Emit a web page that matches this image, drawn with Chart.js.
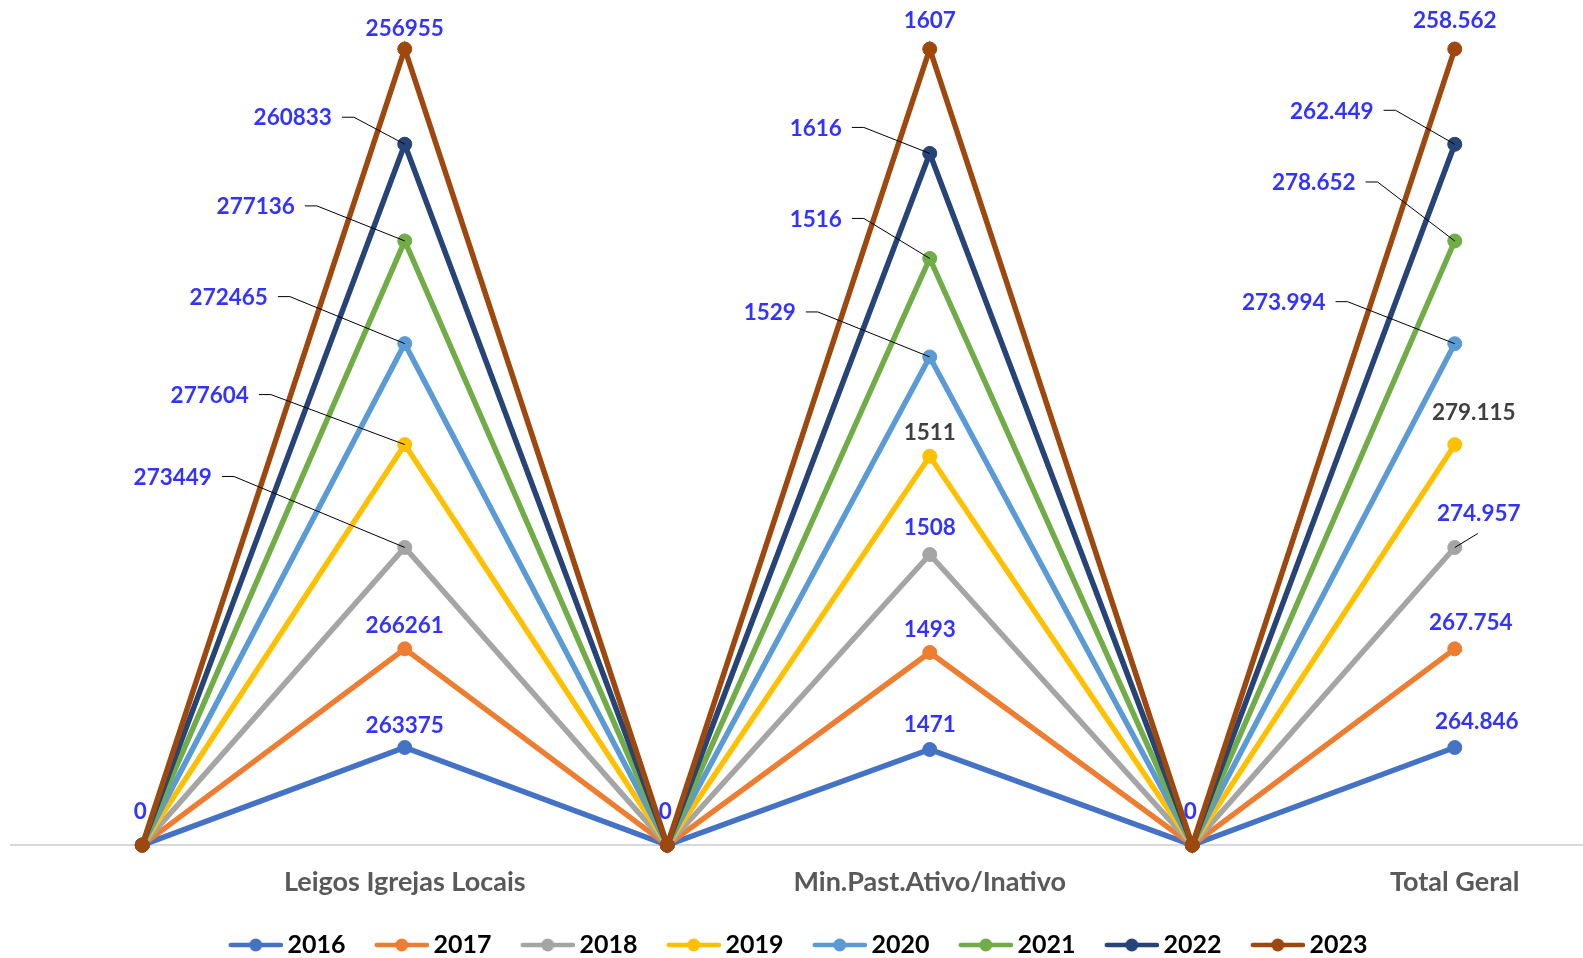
<!DOCTYPE html>
<html>
<head>
<meta charset="utf-8">
<script src="https://cdn.jsdelivr.net/npm/chart.js@4.4.1/dist/chart.umd.min.js"></script>
<style>
  html, body { margin: 0; padding: 0; background: #fff; overflow: hidden; }
  #wrap { width: 1586px; height: 958px; position: relative; }
</style>
</head>
<body>
<div id="wrap"><canvas id="chart"></canvas></div>
<script>
// categories (Excel line chart, 100% stacked, empty slots between groups)
const categories = ['', 'Leigos Igrejas Locais', '', 'Min.Past.Ativo/Inativo', '', 'Total Geral'];
const years = ['2016', '2017', '2018', '2019', '2020', '2021', '2022', '2023'];

const v2016 = [0, 263375, 0, 1471, 0, 264846];
const v2017 = [0, 266261, 0, 1493, 0, 267754];
const v2018 = [0, 273449, 0, 1508, 0, 274957];
const v2019 = [0, 277604, 0, 1511, 0, 279115];
const v2020 = [0, 272465, 0, 1529, 0, 273994];
const v2021 = [0, 277136, 0, 1516, 0, 278652];
const v2022 = [0, 260833, 0, 1616, 0, 262449];
const v2023 = [0, 256955, 0, 1607, 0, 258562];

const series = [v2016, v2017, v2018, v2019, v2020, v2021, v2022, v2023];
const colors = ['#4472C4', '#ED7D31', '#A5A5A5', '#FFC000', '#5B9BD5', '#70AD47', '#264478', '#9E480E'];

// label placement: [dx, dy, leader, color] per year, by category index
const BLUE = '#3333FF', GREY = '#404040';
const labelLayout = {
  1: [[0, -22, null, BLUE], [0, -23, null, BLUE], [-232, -70, 'side', BLUE], [-195, -49, 'side', BLUE],
      [-176, -46, 'side', BLUE], [-149, -34, 'side', BLUE], [-112, -26, 'side', BLUE], [0, -20, null, BLUE]],
  3: [[0, -25, null, BLUE], [0, -23, null, BLUE], [0, -27, null, BLUE], [0, -24, null, GREY],
      [-160, -44, 'side', BLUE], [-114, -39, 'side', BLUE], [-114, -25, 'side', BLUE], [0, -28, null, BLUE]],
  5: [[22, -26, null, BLUE], [16, -26, null, BLUE], [24, -34, 'below', BLUE], [19, -32, null, GREY],
      [-171, -41, 'side', BLUE], [-141, -58, 'side', BLUE], [-123, -33, 'side', BLUE], [0, -28, null, BLUE]]
};

const totals = categories.map((c, i) => series.reduce((s, arr) => s + arr[i], 0));

function fmt(v, ci) {
  const s = String(v);
  return ci === 5 ? s.replace(/\B(?=(\d{3})+(?!\d))/g, '.') : s;
}

// legend icons: line with a circle marker
function legendIcon(color) {
  const c = document.createElement('canvas');
  c.width = 61; c.height = 16;
  const g = c.getContext('2d');
  g.strokeStyle = color; g.lineWidth = 4.5; g.lineCap = 'round';
  g.beginPath(); g.moveTo(9, 8); g.lineTo(59, 8); g.stroke();
  g.fillStyle = color;
  g.beginPath(); g.arc(34, 8, 6.5, 0, Math.PI * 2); g.fill();
  return c;
}
const icons = colors.map(legendIcon);

const drawInOrder = {
  id: 'drawInOrder',
  beforeDatasetsDraw(chart) {
    chart.getSortedVisibleDatasetMetas().forEach(m => m.controller.draw());
    return false;
  }
};

const valueLabels = {
  id: 'valueLabels',
  afterDraw(chart) {
    const ctx = chart.ctx;
    ctx.save();
    ctx.font = 'bold 22.5px Lato';
    ctx.textAlign = 'center';
    ctx.textBaseline = 'middle';
    series.forEach((arr, di) => {
      const meta = chart.getDatasetMeta(di);
      meta.data.forEach((pt, ci) => {
        if (arr[ci] === 0) {
          if (di === 0) {
            ctx.fillStyle = BLUE;
            ctx.fillText('0', pt.x - 2, pt.y - 33);
          }
          return;
        }
        const [dx, dy, leader, col] = labelLayout[ci][di];
        const txt = fmt(arr[ci], ci);
        const lx = pt.x + dx, ly = pt.y + dy;
        ctx.fillStyle = col;
        ctx.fillText(txt, lx, ly);
        if (leader) {
          ctx.strokeStyle = '#000';
          ctx.lineWidth = 1;
          ctx.beginPath();
          if (leader === 'side') {
            const sx = lx + ctx.measureText(txt).width / 2 + 10;
            ctx.moveTo(sx, ly - 1);
            ctx.lineTo(sx + 12, ly - 1);
          } else {
            ctx.moveTo(lx - 1, ly + 20);
          }
          ctx.lineTo(pt.x, pt.y);
          ctx.stroke();
        }
      });
    });
    ctx.restore();
  }
};

new Chart(document.getElementById('chart').getContext('2d'), {
  type: 'line',
  data: {
    labels: categories,
    datasets: series.map((arr, i) => ({
      label: years[i],
      data: arr.map((v, ci) => totals[ci] ? v / totals[ci] : 0),
      borderColor: colors[i],
      backgroundColor: colors[i],
      borderWidth: 5.5,
      pointRadius: 7,
      pointBorderWidth: 1,
      pointBackgroundColor: colors[i],
      pointBorderColor: colors[i],
      tension: 0,
      fill: false
    }))
  },
  options: {
    responsive: true,
    maintainAspectRatio: false,
    animation: false,
    layout: { autoPadding: false, padding: { top: 49, left: 11, right: 0, bottom: -9.5 } },
    scales: {
      x: {
        offset: true,
        grid: { display: false, drawTicks: false },
        border: { color: '#D9D9D9', width: 2 },
        afterFit(scale) {
          scale.height = 57.4;
          scale.paddingLeft = 0;
          scale.paddingRight = 0;
        },
        ticks: {
          autoSkip: false, maxRotation: 0, padding: 21,
          color: '#595959', font: { family: 'Lato', weight: 'bold', size: 27 }
        }
      },
      y: { display: false, stacked: true, min: 0, max: 1 }
    },
    plugins: {
      tooltip: { enabled: false },
      legend: {
        position: 'bottom',
        labels: {
          usePointStyle: true,
          pointStyleWidth: 45.5,
          padding: 30,
          color: '#000',
          font: { family: 'Lato', weight: 'bold', size: 25 },
          generateLabels(chart) {
            const items = Chart.defaults.plugins.legend.labels.generateLabels(chart);
            items.forEach((it, i) => { it.pointStyle = icons[i]; });
            return items;
          }
        }
      }
    }
  },
  plugins: [drawInOrder, valueLabels]
});
</script>
</body>
</html>
